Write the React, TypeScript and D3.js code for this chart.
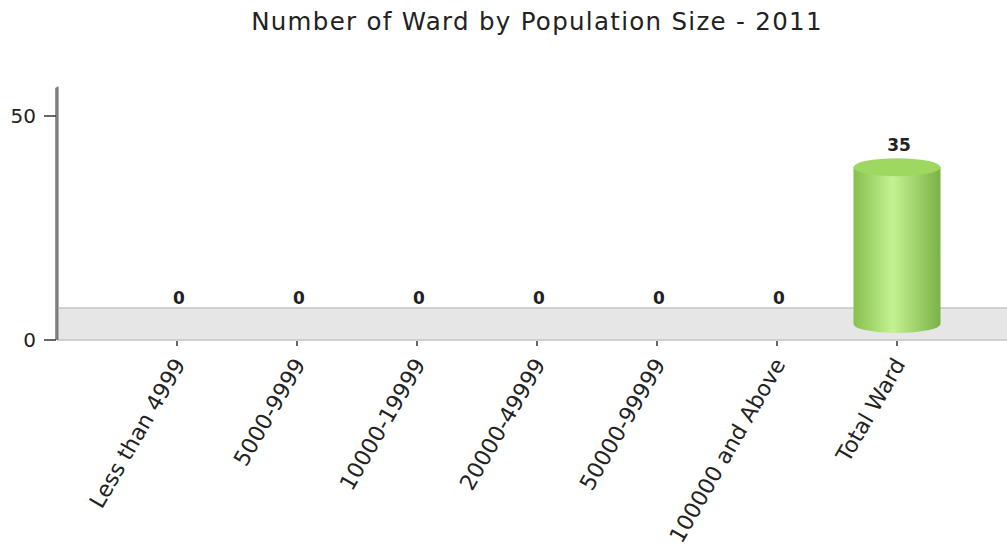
import React, { useEffect, useRef } from 'react';
import * as d3 from 'd3';

const categories = ['Less than 4999', '5000-9999', '10000-19999', '20000-49999', '50000-99999', '100000 and Above', 'Total Ward'];
const values = [0, 0, 0, 0, 0, 0, 35];
const yTicks = [0, 50];
const title = 'Number of Ward by Population Size - 2011';

const App = () => {
  const svgRef = useRef<SVGSVGElement>(null);

  useEffect(() => {
    if (!svgRef.current) return;
    const width = 1007;
    const height = 546;
    const font = '"DejaVu Sans", Verdana, sans-serif';
    const depth = 32; // floor depth in px

    const svg = d3.select(svgRef.current);
    svg.selectAll('*').remove();
    svg.attr('width', width).attr('height', height).attr('viewBox', `0 0 ${width} ${height}`);

    const x = d3.scaleBand<string>().domain(categories).range([117, 957]).paddingInner(0.275).paddingOuter(0.1375);
    const y = d3.scaleLinear().domain([0, 50]).range([340, 116]);

    const defs = svg.append('defs');
    const grad = defs.append('linearGradient').attr('id', 'cyl').attr('x1', '0%').attr('x2', '100%');
    grad.append('stop').attr('offset', '0%').attr('stop-color', '#86c04c');
    grad.append('stop').attr('offset', '45%').attr('stop-color', '#c4f292');
    grad.append('stop').attr('offset', '100%').attr('stop-color', '#78b345');

    const wall = defs.append('linearGradient').attr('id', 'wall').attr('x1', '0%').attr('x2', '100%');
    wall.append('stop').attr('offset', '0%').attr('stop-color', '#a0a0a0');
    wall.append('stop').attr('offset', '60%').attr('stop-color', '#727272');
    wall.append('stop').attr('offset', '100%').attr('stop-color', '#cfcfcf');

    // title
    svg.append('text')
      .attr('x', 537).attr('y', 30)
      .attr('text-anchor', 'middle')
      .attr('font-family', font).attr('font-size', 24.5)
      .attr('letter-spacing', 1.3)
      .attr('fill', '#222')
      .text(title);

    // floor
    const y0 = y(0);
    svg.append('rect')
      .attr('x', 57).attr('y', y0 - depth).attr('width', width - 57).attr('height', depth)
      .attr('fill', '#e6e6e6');
    svg.append('line').attr('x1', 57).attr('x2', width).attr('y1', y0 - depth).attr('y2', y0 - depth)
      .attr('stroke', '#c4c4c4').attr('stroke-width', 1.5);
    svg.append('line').attr('x1', 57).attr('x2', width).attr('y1', y0).attr('y2', y0)
      .attr('stroke', '#c4c4c4').attr('stroke-width', 1.5);

    // left wall / y axis
    svg.append('path')
      .attr('d', `M55,${y0} L55,88 L59,86 L59,${y0} Z`)
      .attr('fill', 'url(#wall)');

    // y ticks
    const yg = svg.append('g');
    yTicks.forEach(t => {
      yg.append('line').attr('x1', 44).attr('x2', 56).attr('y1', y(t)).attr('y2', y(t))
        .attr('stroke', '#333').attr('stroke-width', 1.5);
      yg.append('text').attr('x', 36).attr('y', y(t) + 7)
        .attr('text-anchor', 'end')
        .attr('font-family', font).attr('font-size', 20)
        .attr('fill', '#222')
        .text(t);
    });

    // x ticks and labels
    const xg = svg.append('g');
    categories.forEach(c => {
      const cx = (x(c) ?? 0) + x.bandwidth() / 2;
      xg.append('line').attr('x1', cx).attr('x2', cx).attr('y1', y0 + 1).attr('y2', y0 + 6)
        .attr('stroke', '#333').attr('stroke-width', 1.5);
      xg.append('text')
        .attr('transform', `translate(${cx + 9},${y0 + 24}) rotate(-60)`)
        .attr('text-anchor', 'end')
        .attr('font-family', font).attr('font-size', 22)
        .attr('fill', '#222')
        .text(c);
    });

    // cylinders
    const rx = x.bandwidth() / 2;
    const ry = 9;
    const base = y0 - depth / 2;
    const bars = svg.append('g');
    values.forEach((v, i) => {
      const c = categories[i];
      const cx = (x(c) ?? 0) + x.bandwidth() / 2;
      const top = base - (y0 - y(v));
      if (v > 0) {
        bars.append('path')
          .attr('d', `M${cx - rx},${top} L${cx - rx},${base} A${rx},${ry} 0 0 0 ${cx + rx},${base} L${cx + rx},${top} Z`)
          .attr('fill', 'url(#cyl)');
        bars.append('ellipse')
          .attr('cx', cx).attr('cy', top).attr('rx', rx).attr('ry', ry)
          .attr('fill', '#9fd860');
      }
      bars.append('text')
        .attr('x', cx + 2).attr('y', v > 0 ? top - 16 : base - 20)
        .attr('text-anchor', 'middle')
        .attr('font-family', font).attr('font-size', 17).attr('font-weight', 'bold')
        .attr('fill', '#222')
        .text(v);
    });
  }, []);

  return <svg ref={svgRef} style={{ position: 'absolute', left: 0, top: 0, background: '#fff' }} />;
};

export default App;
